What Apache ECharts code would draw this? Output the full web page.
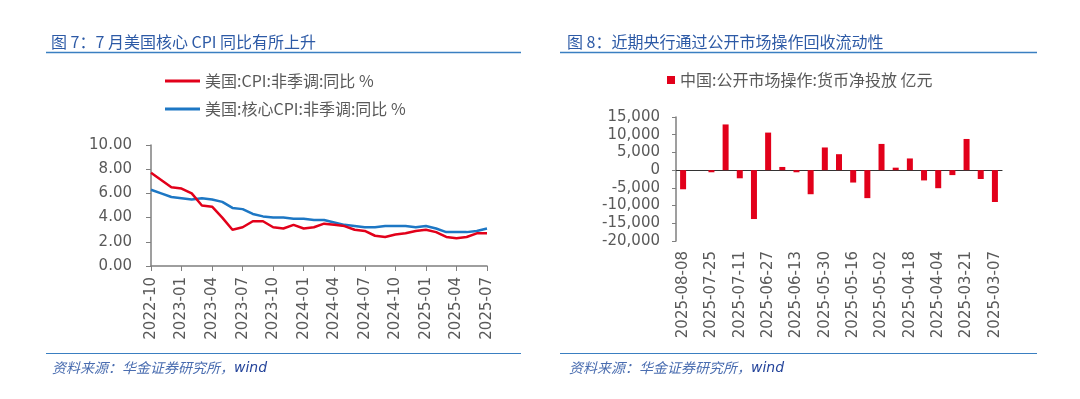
<!DOCTYPE html>
<html lang="zh">
<head>
<meta charset="UTF-8">
<title>CPI and open market operations</title>
<script src="https://cdn.jsdelivr.net/npm/echarts@6.0.0/dist/echarts.min.js"></script>
<style>
  html, body { margin: 0; padding: 0; background: #fff; }
  #chart { width: 1080px; height: 399px; }
</style>
</head>
<body>
<div id="chart"></div>
<script>
// left chart: US CPI yoy, monthly
var months = ['2022-10','2022-11','2022-12','2023-01','2023-02','2023-03','2023-04','2023-05','2023-06',
  '2023-07','2023-08','2023-09','2023-10','2023-11','2023-12','2024-01','2024-02','2024-03','2024-04',
  '2024-05','2024-06','2024-07','2024-08','2024-09','2024-10','2024-11','2024-12','2025-01','2025-02',
  '2025-03','2025-04','2025-05','2025-06','2025-07'];
var cpi = [7.7,7.1,6.5,6.4,6.0,5.0,4.9,4.0,3.0,3.2,3.7,3.7,3.2,3.1,3.4,3.1,3.2,3.5,3.4,3.3,3.0,2.9,
  2.5,2.4,2.6,2.7,2.9,3.0,2.8,2.4,2.3,2.4,2.7,2.7];
var coreCpi = [6.3,6.0,5.7,5.6,5.5,5.6,5.5,5.3,4.8,4.7,4.3,4.1,4.0,4.0,3.9,3.9,3.8,3.8,3.6,3.4,3.3,3.2,
  3.2,3.3,3.3,3.3,3.2,3.3,3.1,2.8,2.8,2.8,2.9,3.1];

// right chart: PBoC open market net injection, weekly (100m yuan)
var weeks = ['2025-08-08','2025-08-01','2025-07-25','2025-07-18','2025-07-11','2025-07-04','2025-06-27',
  '2025-06-20','2025-06-13','2025-06-06','2025-05-30','2025-05-23','2025-05-16','2025-05-09','2025-05-02',
  '2025-04-25','2025-04-18','2025-04-11','2025-04-04','2025-03-28','2025-03-21','2025-03-14','2025-03-07'];
var netInjection = [-5400,0,-600,12900,-2300,-13800,10600,900,-600,-6800,6400,4500,-3500,-7900,7400,
  700,3300,-2900,-5100,-1400,8800,-2500,-9000];

var RED = '#e2001a', BLUE = '#1d77c4', GREY = '#595959', AXIS = '#7f7f7f', RULE = '#3a7fc1';
var FONT = 'DejaVu Sans';
var CJK = '"Noto Sans CJK SC", sans-serif';

var source = {
  text: '{a|资料来源：华金证券研究所，}{b|wind}',
  textStyle: {
    fontWeight: 'normal',
    rich: {
      a: { fontFamily: CJK, fontSize: 14, fontStyle: 'italic', fontWeight: 'normal', color: '#4a6db0' },
      b: { fontFamily: FONT, fontSize: 14, fontStyle: 'italic', fontWeight: 'normal', color: '#23439a' }
    }
  }
};

var chart = echarts.init(document.getElementById('chart'));

var option = {
  animation: false,
  textStyle: { fontFamily: FONT },
  title: [
    { text: '图 7：7 月美国核心 CPI 同比有所上升', left: 46, top: 29,
      textStyle: { fontFamily: CJK, fontSize: 16, fontWeight: 'normal', color: '#2d5aa6' } },
    { text: '图 8：近期央行通过公开市场操作回收流动性', left: 562, top: 29,
      textStyle: { fontFamily: CJK, fontSize: 16, fontWeight: 'normal', color: '#2d5aa6' } },
    { text: source.text, left: 47, top: 356, textStyle: source.textStyle },
    { text: source.text, left: 564, top: 356, textStyle: source.textStyle }
  ],
  graphic: [
    { type: 'line', shape: { x1: 46, y1: 52.5, x2: 521, y2: 52.5 }, style: { stroke: RULE, lineWidth: 1.5 } },
    { type: 'line', shape: { x1: 560, y1: 52.5, x2: 1037, y2: 52.5 }, style: { stroke: RULE, lineWidth: 1.5 } },
    { type: 'line', shape: { x1: 46, y1: 353.5, x2: 521, y2: 353.5 }, style: { stroke: RULE, lineWidth: 1 } },
    { type: 'line', shape: { x1: 560, y1: 353.5, x2: 1037, y2: 353.5 }, style: { stroke: RULE, lineWidth: 1 } }
  ],
  legend: [
    { data: ['美国:CPI:非季调:同比 %', '美国:核心CPI:非季调:同比 %'], orient: 'vertical',
      left: 160, top: 68, itemWidth: 35, itemHeight: 3, itemGap: 12, icon: 'rect',
      textStyle: { fontFamily: CJK, fontSize: 16, color: GREY } },
    { data: ['中国:公开市场操作:货币净投放 亿元'], left: 662, top: 67,
      itemWidth: 8, itemHeight: 8, icon: 'rect', itemGap: 6,
      textStyle: { fontFamily: CJK, fontSize: 16, color: GREY } }
  ],
  grid: [
    { left: 151, right: 593, top: 145, bottom: 133 },
    { left: 676, right: 78, top: 117, bottom: 158 }
  ],
  xAxis: [
    { type: 'category', gridIndex: 0, data: months, boundaryGap: false,
      axisLine: { lineStyle: { color: AXIS, width: 1.5 } },
      axisTick: { interval: 2, length: 5, lineStyle: { color: AXIS } },
      axisLabel: { interval: 2, rotate: 90, margin: 11, fontSize: 15, color: GREY } },
    { type: 'category', gridIndex: 1, data: weeks, position: 'bottom',
      axisLine: { show: false, onZero: false }, axisTick: { show: false },
      axisLabel: { interval: 1, rotate: 90, margin: 10, fontSize: 15, color: GREY } },
    { type: 'category', gridIndex: 1, data: weeks, position: 'bottom',
      axisLine: { onZero: true, lineStyle: { color: '#333', width: 1.2 } },
      axisTick: { interval: 0, length: 4, lineStyle: { color: '#333' } },
      axisLabel: { show: false } }
  ],
  yAxis: [
    { type: 'value', gridIndex: 0, min: 0, max: 10, interval: 2,
      axisLine: { show: true, lineStyle: { color: AXIS, width: 1.5 } },
      axisTick: { show: true, length: 5, lineStyle: { color: AXIS } },
      splitLine: { show: false },
      axisLabel: { margin: 19, fontSize: 15, color: GREY, formatter: function (v) { return v.toFixed(2); } } },
    { type: 'value', gridIndex: 1, min: -20000, max: 15000, interval: 5000,
      axisLine: { show: true, lineStyle: { color: AXIS, width: 1.5 } },
      axisTick: { show: true, length: 4, lineStyle: { color: AXIS } },
      splitLine: { show: false },
      axisLabel: { margin: 16, fontSize: 15, color: GREY,
        formatter: function (v) { return v.toLocaleString('en-US'); } } }
  ],
  series: [
    { name: '美国:CPI:非季调:同比 %', type: 'line', xAxisIndex: 0, yAxisIndex: 0, data: cpi,
      symbol: 'none', lineStyle: { color: RED, width: 2.5 }, itemStyle: { color: RED }, z: 3 },
    { name: '美国:核心CPI:非季调:同比 %', type: 'line', xAxisIndex: 0, yAxisIndex: 0, data: coreCpi,
      symbol: 'none', lineStyle: { color: BLUE, width: 2.5 }, itemStyle: { color: BLUE }, z: 2 },
    { name: '中国:公开市场操作:货币净投放 亿元', type: 'bar', xAxisIndex: 1, yAxisIndex: 1,
      data: netInjection, barWidth: 6, itemStyle: { color: RED } }
  ]
};

chart.setOption(option);
</script>
</body>
</html>
